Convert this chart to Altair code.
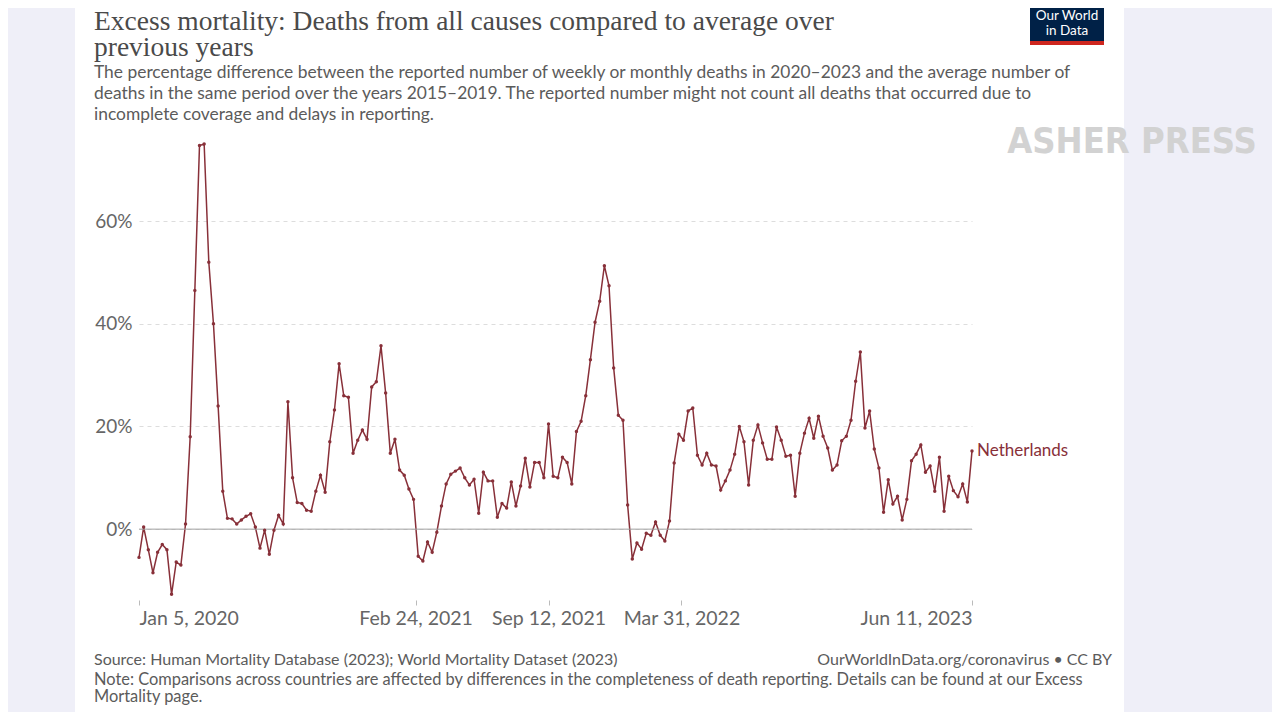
import altair as alt
import pandas as pd

# ---------------- data ----------------
country = "Netherlands"
start_date = "2020-01-05"
excess_pct = [
    -5.5, 0.4, -4.0, -8.5, -4.5, -3.0, -4.0, -12.7, -6.4, -7.0,
    1.0, 18.0, 46.5, 74.7, 75.0, 52.0, 40.0, 24.0, 7.4, 2.1,
    2.0, 1.0, 1.8, 2.5, 3.0, 0.4, -3.7, -0.2, -4.9, -0.2,
    2.7, 1.0, 24.8, 10.0, 5.2, 5.0, 3.7, 3.5, 7.4, 10.5,
    7.2, 17.0, 23.2, 32.2, 26.0, 25.7, 14.8, 17.3, 19.3, 17.5,
    27.7, 28.7, 35.7, 26.5, 14.8, 17.5, 11.5, 10.5, 7.8, 5.8,
    -5.3, -6.2, -2.5, -4.5, -0.6, 4.5, 8.8, 10.7, 11.3, 11.9,
    10.0, 8.6, 9.7, 3.1, 11.1, 9.4, 9.4, 2.3, 5.0, 4.1,
    9.2, 4.5, 8.4, 13.8, 8.2, 13.0, 13.0, 10.0, 20.5, 10.3,
    10.0, 14.0, 13.0, 8.8, 19.0, 21.0, 26.0, 33.0, 40.3, 44.4,
    51.3, 47.4, 31.4, 22.2, 21.2, 4.7, -5.8, -2.7, -3.9, -0.8,
    -1.2, 1.4, -1.2, -2.3, 1.6, 12.9, 18.5, 17.3, 23.0, 23.6,
    14.4, 12.5, 14.8, 12.5, 12.3, 7.6, 9.4, 11.5, 14.6, 20.0,
    17.0, 8.6, 17.3, 20.3, 16.8, 13.6, 13.6, 19.9, 17.3, 14.2,
    14.4, 6.4, 14.8, 18.7, 21.6, 17.7, 22.0, 18.1, 15.8, 11.5,
    12.5, 17.2, 18.1, 21.2, 28.8, 34.5, 19.7, 23.0, 15.6, 11.9,
    3.3, 9.6, 4.9, 6.4, 1.8, 5.8, 13.3, 14.6, 16.4, 11.1,
    12.3, 7.4, 14.0, 3.5, 10.3, 7.5, 6.3, 8.8, 5.3, 15.2,
]
week_dates = pd.date_range(start_date, periods=len(excess_pct), freq="7D").strftime("%Y-%m-%dT00:00:00").tolist()

x_tick_dates = [(2020, 1, 5), (2021, 2, 24), (2021, 9, 12), (2022, 3, 31), (2023, 6, 11)]
y_tick_values = [0, 20, 40, 60]
y_domain = [-13.8, 75.4]

title_lines = ["Excess mortality: Deaths from all causes compared to average over", "previous years"]
subtitle_lines = [
    "The percentage difference between the reported number of weekly or monthly deaths in 2020–2023 and the average number of",
    "deaths in the same period over the years 2015–2019. The reported number might not count all deaths that occurred due to",
    "incomplete coverage and delays in reporting.",
]
source_text = "Source: Human Mortality Database (2023); World Mortality Dataset (2023)"
url_text = "OurWorldInData.org/coronavirus • CC BY"
note_lines = [
    "Note: Comparisons across countries are affected by differences in the completeness of death reporting. Details can be found at our Excess",
    "Mortality page.",
]
logo_lines = ["Our World", "in Data"]
watermark = "ASHER PRESS"

# ---------------- layout ----------------
X0, Y0 = 139, 142          # page position of plot origin
W, H = 833, 458
LINE_COLOR = "#883039"
TEXT_GRAY = "#5b5b5b"
SIDE = "#efeff8"

df = pd.DataFrame({"date": week_dates, "value": excess_pct, "country": country})
last = df.tail(1)

def dt(t):
    return alt.DateTime(year=t[0], month=t[1], date=t[2])

x_enc = alt.X(
    "date:T",
    title=None,
    scale=alt.Scale(domain=[dt(x_tick_dates[0]), dt(x_tick_dates[-1])], nice=False),
    axis=alt.Axis(
        values=[dt(t) for t in x_tick_dates], format="%b %-d, %Y", labelFlush=True,
        domain=False, grid=False, tickColor="#bbbbbb", tickSize=5, labelPadding=4,
        labelFontSize=19.5, labelFont="Lato", labelColor="#666666",
    ),
)
y_enc = alt.Y(
    "value:Q",
    title=None,
    scale=alt.Scale(domain=y_domain, nice=False, zero=False),
    axis=alt.Axis(
        values=y_tick_values, labelExpr="datum.value + '%'", domain=False, ticks=False,
        labelPadding=7, labelFontSize=19, labelFont="Lato", labelColor="#666666",
        grid=True, gridColor="#dddddd", gridDash=[4, 4],
    ),
)

one = pd.DataFrame({"a": [0]})

def box(x1, x2, y1, y2, color):
    return alt.Chart(one).mark_rect(color=color).encode(
        x=alt.value(x1 - X0), x2=alt.value(x2 - X0), y=alt.value(y1 - Y0), y2=alt.value(y2 - Y0)
    )

def txt(text, x, y, size, color, font="Lato", align="left", weight="normal"):
    return alt.Chart(pd.DataFrame({"t": [text]})).mark_text(
        align=align, baseline="middle", fontSize=size, font=font, color=color, fontWeight=weight
    ).encode(x=alt.value(x - X0), y=alt.value(y - Y0), text="t:N")

base = alt.Chart(df).encode(x=x_enc, y=y_enc)
zero_line = alt.Chart(pd.DataFrame({"value": [0]})).mark_rule(color="#a0a0a0", strokeWidth=1).encode(y=y_enc)
line = base.mark_line(color=LINE_COLOR, strokeWidth=1.5)
pts = base.mark_circle(color=LINE_COLOR, size=12, opacity=1)
label = alt.Chart(last).mark_text(align="left", baseline="middle", dx=5, fontSize=17, font="Lato",
                                  color=LINE_COLOR).encode(x="date:T", y="value:Q", text="country:N")

layers = [
    box(0, 75, -10, 730, SIDE),
    box(1124, 1290, -10, 730, SIDE),
    line, zero_line, pts, label,
]

# titles
layers.append(txt(title_lines[0], 94, 22, 27.5, "#4a4a4a", font="Liberation Serif"))
layers.append(txt(title_lines[1], 94, 48, 27.5, "#4a4a4a", font="Liberation Serif"))
for i, s in enumerate(subtitle_lines):
    layers.append(txt(s, 94, 73 + 21 * i, 17.4, TEXT_GRAY))

# footer
layers.append(txt(source_text, 94, 660, 16, TEXT_GRAY))
layers.append(txt(url_text, 1112, 660, 16, TEXT_GRAY, align="right"))
for i, s in enumerate(note_lines):
    layers.append(txt(s, 94, 680 + 17 * i, 16.4, TEXT_GRAY))

# logo
layers.append(box(1030, 1104, 2, 41, "#002147"))
layers.append(box(1030, 1104, 41, 45, "#ce261e"))
layers.append(txt(logo_lines[0], 1067, 16, 13.5, "white", align="center"))
layers.append(txt(logo_lines[1], 1067, 31, 13.5, "white", align="center"))

# watermark
layers.append(txt(watermark, 1132, 142, 36, "#d2d2d2",
                  font="'Liberation Sans Narrow', 'DejaVu Sans Condensed', 'Roboto Condensed', 'Liberation Sans', sans-serif",
                  align="center", weight="bold"))

chart = alt.layer(*layers).properties(
    width=W, height=H,
    autosize=alt.AutoSizeParams(type="none"),
    padding={"left": X0 - 8, "top": Y0 - 8, "right": 1264 - (X0 - 8) - W, "bottom": 704 - (Y0 - 8) - H},
).configure(background="white").configure_view(stroke=None)

chart.save("out.html", embed_options={"renderer": "svg", "actions": False})
